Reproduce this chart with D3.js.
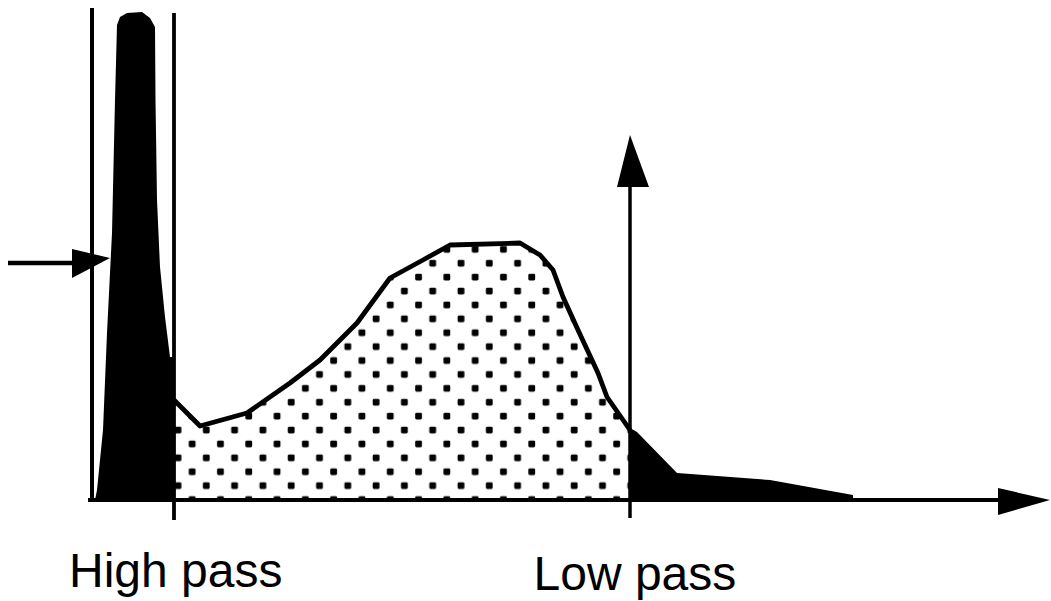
<!DOCTYPE html>
<html><head><meta charset="utf-8">
<script src="https://cdn.jsdelivr.net/npm/d3@7"></script>
<style>html,body{margin:0;padding:0;background:#fff;}svg{display:block;}</style>
</head><body>
<svg id="chart" width="1051" height="601"></svg>
<script>
// Spectrum parts (x: frequency units, y: amplitude units)
const spikeX = [3,5,11,15,20,23,25,28,35,50,58,63,63.5,65,68,73,78,82];
const spikeY = [0,10,70,167,267,400,475,483,487,488,482,473,400,300,233,183,143,143];
const bandX = [82,108,155,198,228,265,298,331,358,428,448,461,471,486,506,515,538];
const bandY = [100,74,87,117,140,177,222,240,255,257,245,230,203,170,127,103,70];
const tailX = [538,545,585,678,761,761];
const tailY = [72,68,27,20,5,0];
const cutoffs = [82, 538];
const cutoffLabels = ["High pass", "Low pass"];
const markerY = 240;

const svg = d3.select("#chart");
const x = d3.scaleLinear().domain([0, 958]).range([92, 1050]);
const y = d3.scaleLinear().domain([0, 490]).range([500, 10]);

// dotted pattern
const defs = svg.append("defs");
const pat = defs.append("pattern").attr("id","dots")
  .attr("patternUnits","userSpaceOnUse")
  .attr("x",171).attr("y",423).attr("width",28.3).attr("height",27.8);
pat.append("rect").attr("x",3.6).attr("y",3.6).attr("width",6.8).attr("height",6.8).attr("rx",1.4).attr("fill","#000");
pat.append("rect").attr("x",17.75).attr("y",17.5).attr("width",6.8).attr("height",6.8).attr("rx",1.4).attr("fill","#000");

const zip = (xs, ys) => xs.map((v,i)=>[v, ys[i]]);
const area = d3.area().x(d=>x(d[0])).y0(y(0)).y1(d=>y(d[1]));
const line = d3.line().x(d=>x(d[0])).y(d=>y(d[1]));

// band (dotted)
const band = zip(bandX, bandY);
svg.append("path").attr("d", area(band)).attr("fill","url(#dots)");
svg.append("path").attr("d", line(band)).attr("fill","none").attr("stroke","#000")
  .attr("stroke-width",4.8).attr("stroke-linejoin","round");

// spike
svg.append("path").attr("d", area(zip(spikeX, spikeY))).attr("fill","#000");
// tail
svg.append("path").attr("d", area([[tailX[0],0]].concat(zip(tailX, tailY)))).attr("fill","#000");

// frame left line
svg.append("line").attr("x1",x(0)).attr("x2",x(0)).attr("y1",y(492)).attr("y2",y(0))
  .attr("stroke","#000").attr("stroke-width",4);

// baseline with arrow
svg.append("line").attr("x1",x(-4)).attr("x2",x(910)).attr("y1",y(0)).attr("y2",y(0))
  .attr("stroke","#000").attr("stroke-width",4);
svg.append("path").attr("d", d3.line()([[x(906),y(12)],[x(958),y(0)],[x(906),y(-15)]]) + "Z").attr("fill","#000");

// cutoff lines
svg.append("line").attr("x1",x(cutoffs[0])).attr("x2",x(cutoffs[0])).attr("y1",y(487)).attr("y2",y(-20))
  .attr("stroke","#000").attr("stroke-width",3.8);
svg.append("line").attr("x1",x(cutoffs[1])).attr("x2",x(cutoffs[1])).attr("y1",y(320)).attr("y2",y(-18))
  .attr("stroke","#000").attr("stroke-width",3.5);
svg.append("path").attr("d", d3.line()([[x(cutoffs[1]-13),y(313)],[x(cutoffs[1]),y(365)],[x(cutoffs[1]+19),y(313)]]) + "Z").attr("fill","#000");

// left marker arrow
svg.append("line").attr("x1",x(-84)).attr("x2",x(-15)).attr("y1",y(markerY-3)).attr("y2",y(markerY-3))
  .attr("stroke","#000").attr("stroke-width",4.5);
svg.append("path").attr("d", d3.line()([[x(-20),y(251)],[x(18),y(242)],[x(-20),y(222)]]) + "Z").attr("fill","#000");

// labels
const labelDx = [-105, -96.5];
const labelY = [587, 590];
cutoffLabels.forEach((t,i)=>{
  svg.append("text").attr("x", x(cutoffs[i]) + labelDx[i]).attr("y", labelY[i])
    .attr("text-anchor","start").attr("font-family","'Liberation Sans', Arial, sans-serif")
    .attr("font-size",48).attr("fill","#000").text(t);
});
</script>
</body></html>
